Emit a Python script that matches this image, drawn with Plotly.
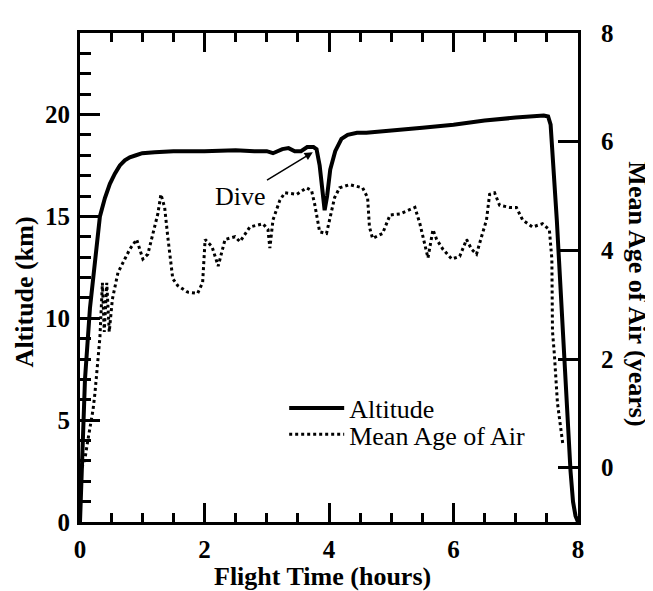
import plotly.graph_objects as go

# Altitude (km) vs flight time (hours)
alt_time = [0, 0.04, 0.08, 0.16, 0.24, 0.32, 0.40, 0.48, 0.56, 0.64, 0.72, 0.80, 0.90, 1.0, 1.2,
            1.5, 2.0, 2.5, 2.8, 3.0, 3.1, 3.25, 3.35, 3.45, 3.55, 3.65, 3.75, 3.8, 3.85, 3.9,
            3.93, 3.97, 4.02, 4.1, 4.2, 4.3, 4.45, 4.6, 5.0, 5.5, 6.0, 6.5, 7.0, 7.3, 7.45,
            7.52, 7.56, 7.66, 7.75, 7.82, 7.88, 7.92, 7.96, 8.0]
alt_km = [0, 4, 7, 10.5, 13, 15, 15.9, 16.6, 17.1, 17.5, 17.75, 17.9, 18.0, 18.1, 18.15,
          18.2, 18.2, 18.25, 18.2, 18.2, 18.1, 18.3, 18.35, 18.2, 18.2, 18.4, 18.4, 18.3, 17.5, 16.0,
          15.3, 16.0, 17.3, 18.2, 18.8, 19.0, 19.1, 19.1, 19.2, 19.35, 19.5, 19.7, 19.85, 19.9, 19.95,
          19.9, 19.5, 14.8, 9.4, 5.5, 2.5, 1.0, 0.3, 0]

# Mean age of air (years) vs flight time (hours)
age_time = [0.03, 0.08, 0.13, 0.16, 0.21, 0.24, 0.27, 0.32, 0.36, 0.39, 0.43, 0.47, 0.52, 0.56,
            0.61, 0.72, 0.80, 0.91, 0.96, 1.01, 1.09, 1.17, 1.25, 1.30, 1.36, 1.41, 1.49, 1.57,
            1.73, 1.89, 1.97, 2.01, 2.12, 2.22, 2.28, 2.33, 2.49, 2.57, 2.73, 2.94, 3.02, 3.05,
            3.10, 3.21, 3.29, 3.48, 3.64, 3.72, 3.77, 3.82, 3.85, 3.96, 4.01, 4.09, 4.17, 4.33,
            4.54, 4.62, 4.65, 4.70, 4.86, 4.98, 5.14, 5.38, 5.46, 5.54, 5.59, 5.67, 5.73, 5.83,
            5.97, 6.10, 6.21, 6.29, 6.37, 6.45, 6.53, 6.58, 6.66, 6.74, 6.90, 7.01, 7.11, 7.27,
            7.43, 7.54, 7.58, 7.59, 7.62, 7.67, 7.76]
age_years = [0.0, 0.17, 0.53, 0.71, 1.07, 1.37, 1.79, 2.40, 3.40, 2.50, 3.40, 2.50, 3.10, 3.35,
             3.59, 3.84, 4.02, 4.20, 4.02, 3.84, 3.93, 4.31, 4.67, 5.03, 4.79, 4.25, 3.48, 3.35,
             3.23, 3.21, 3.41, 4.20, 4.07, 3.71, 3.95, 4.20, 4.25, 4.16, 4.43, 4.49, 4.38, 4.04,
             4.56, 4.92, 5.06, 5.03, 5.15, 5.10, 4.85, 4.56, 4.34, 4.31, 4.56, 4.97, 5.15, 5.21,
             5.15, 4.97, 4.43, 4.22, 4.31, 4.65, 4.67, 4.79, 4.49, 4.07, 3.86, 4.38, 4.20, 4.02,
             3.84, 3.89, 4.20, 4.02, 3.93, 4.25, 4.56, 5.03, 5.06, 4.83, 4.79, 4.79, 4.56, 4.43,
             4.49, 4.38, 3.84, 2.51, 2.09, 1.19, 0.40]

x_ticks = [0, 2, 4, 6, 8]
alt_ticks = [0, 5, 10, 15, 20]
age_ticks = [0, 2, 4, 6, 8]

SERIF = "Liberation Serif"
TICKF = dict(family=SERIF, size=25, color="black", weight="bold")
TITLEF = dict(family=SERIF, size=26, color="black", weight="bold")
TEXTF = dict(family=SERIF, size=26, color="black")

fig = go.Figure()
fig.add_trace(go.Scatter(x=alt_time, y=alt_km, mode="lines", name="Altitude",
                         line=dict(color="black", width=4), yaxis="y", legend="legend"))
fig.add_trace(go.Scatter(x=age_time, y=age_years, mode="lines", name="Mean Age of Air",
                         line=dict(color="black", width=3, dash="3px,3px"), yaxis="y2",
                         legend="legend2"))

leg_common = dict(xanchor="left", yanchor="middle", font=TEXTF, bgcolor="rgba(0,0,0,0)",
                  itemwidth=55, borderwidth=0)

fig.update_layout(
    width=645, height=583,
    margin=dict(l=72, r=75, t=14, b=69),
    paper_bgcolor="white", plot_bgcolor="white",
    font=dict(family=SERIF, color="black"),
    showlegend=True,
    legend=dict(x=0.41, y=0.233, **leg_common),
    legend2=dict(x=0.41, y=0.179, **leg_common),
    xaxis=dict(range=[0, 8], tickvals=x_ticks, ticks="inside", ticklen=19, tickwidth=2.5,
               tickcolor="black", showline=True, linewidth=3, linecolor="black", mirror="ticks",
               showgrid=False, zeroline=False, tickfont=TICKF, ticklabelstandoff=3,
               minor=dict(dtick=0.5, ticks="inside", ticklen=9, tickwidth=2.5, tickcolor="black",
                          showgrid=False)),
    yaxis=dict(range=[0, 24], tickvals=alt_ticks, ticks="inside", ticklen=20, tickwidth=2.5,
               tickcolor="black", showline=True, linewidth=3, linecolor="black",
               showgrid=False, zeroline=False, tickfont=TICKF, ticklabelstandoff=2,
               minor=dict(dtick=1, ticks="inside", ticklen=11, tickwidth=2.5, tickcolor="black",
                          showgrid=False)),
    yaxis2=dict(range=[-1, 8], tickvals=age_ticks, overlaying="y", side="right",
                ticks="inside", ticklen=20, tickwidth=2.5, tickcolor="black",
                showline=True, linewidth=3, linecolor="black",
                showgrid=False, zeroline=False, tickfont=TICKF, ticklabelstandoff=15),
    annotations=[
        dict(text="Flight Time (hours)", x=0.486, y=-0.112, xref="paper", yref="paper",
             xanchor="center", yanchor="middle", showarrow=False, font=TITLEF),
        dict(text="Altitude (km)", x=-0.112, y=0.47, xref="paper", yref="paper",
             xanchor="center", yanchor="middle", textangle=-90, showarrow=False, font=TITLEF),
        dict(text="Mean Age of Air (years)", x=1.12, y=0.466, xref="paper", yref="paper",
             xanchor="center", yanchor="middle", textangle=90, showarrow=False, font=TITLEF),
        dict(text="Dive", x=3.74, y=18.15, xref="x", yref="y", ax=-72, ay=44,
             showarrow=True, arrowhead=2, arrowsize=1.1, arrowwidth=1.5, arrowcolor="black",
             font=TEXTF),
    ],
)

fig.write_html("out.html")
